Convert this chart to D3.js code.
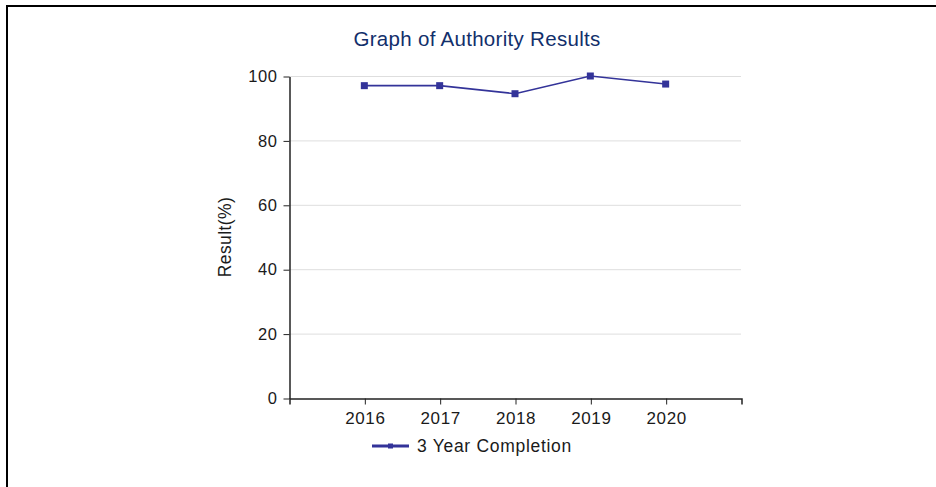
<!DOCTYPE html>
<html>
<head>
<meta charset="utf-8">
<script src="https://cdn.jsdelivr.net/npm/d3@7"></script>
<style>
  html, body { margin: 0; padding: 0; background: #fff; }
  svg { display: block; }
  text { font-family: "Liberation Sans", Arial, sans-serif; }
</style>
</head>
<body>
<script>
const categories = ["2016", "2017", "2018", "2019", "2020"];
const completionValues = [97, 97, 94.5, 100, 97.5];
const yTicks = [0, 20, 40, 60, 80, 100];
const seriesName = "3 Year Completion";
const chartTitle = "Graph of Authority Results";
const yAxisTitle = "Result(%)";

const W = 936, H = 487;
const svg = d3.select("body").append("svg").attr("width", W).attr("height", H);

// frame border (top + left)
svg.append("path")
  .attr("d", "M7,487V6H936")
  .attr("fill", "none").attr("stroke", "#000").attr("stroke-width", 2);

const pLeft = 289, pRight = 741, pTop = 76, pBottom = 398;
const x = d3.scalePoint().domain(categories).range([pLeft, pRight]).padding(1);
const y = d3.scaleLinear().domain([0, 100]).range([pBottom, pTop]);

// gridlines
svg.append("g").selectAll("line").data(yTicks.filter(d => d > 0)).join("line")
  .attr("x1", pLeft).attr("x2", pRight)
  .attr("y1", d => y(d) + 0.5).attr("y2", d => y(d) + 0.5)
  .attr("stroke", "#dedede").attr("stroke-width", 1);

// y axis
const yAxis = svg.append("g").attr("transform", `translate(${pLeft + 0.5},0.5)`)
  .call(d3.axisLeft(y).tickValues(yTicks).tickSize(6).tickSizeOuter(0).tickPadding(6));
yAxis.select(".domain").attr("stroke", "#222").attr("stroke-width", 1.5);
yAxis.selectAll(".tick line").attr("stroke", "#222");
yAxis.selectAll("text").attr("font-size", 16.5).attr("fill", "#1a1a1a")
  .attr("letter-spacing", 0.6)
  .attr("font-family", "Liberation Sans, Arial, sans-serif");

// x axis
const xAxis = svg.append("g").attr("transform", `translate(0.5,${pBottom + 0.5})`)
  .call(d3.axisBottom(x).tickSize(6).tickSizeOuter(6).tickPadding(7));
xAxis.select(".domain").attr("stroke", "#222").attr("stroke-width", 1.5);
xAxis.selectAll(".tick line").attr("stroke", "#222");
xAxis.selectAll("text").attr("font-size", 17).attr("fill", "#1a1a1a")
  .attr("letter-spacing", 0.6)
  .attr("font-family", "Liberation Sans, Arial, sans-serif");

// series line
const color = "#333399";
const data = categories.map((c, i) => ({ c, v: completionValues[i] }));
svg.append("path").datum(data)
  .attr("fill", "none").attr("stroke", color).attr("stroke-width", 1.6)
  .attr("d", d3.line().x(d => x(d.c)).y(d => y(d.v)));
svg.append("g").selectAll("rect").data(data).join("rect")
  .attr("x", d => x(d.c) - 3.5).attr("y", d => y(d.v) - 3.5)
  .attr("width", 7).attr("height", 7).attr("fill", color);

// title
svg.append("text").attr("x", 477).attr("y", 46).attr("text-anchor", "middle")
  .attr("font-size", 20.5).attr("letter-spacing", 0.3).attr("fill", "#122f6b").text(chartTitle);

// y axis title
svg.append("text").attr("transform", `translate(231,${(pTop + pBottom) / 2}) rotate(-90)`)
  .attr("text-anchor", "middle").attr("font-size", 17.5).attr("letter-spacing", 0.4)
  .attr("fill", "#1a1a1a").text(yAxisTitle);

// legend
const lg = svg.append("g");
lg.append("line").attr("x1", 372).attr("x2", 409).attr("y1", 446).attr("y2", 446)
  .attr("stroke", color).attr("stroke-width", 3);
lg.append("rect").attr("x", 388).attr("y", 443.5).attr("width", 5).attr("height", 5).attr("fill", color);
lg.append("text").attr("x", 417).attr("y", 452).attr("font-size", 17.5).attr("letter-spacing", 0.7)
  .attr("fill", "#1a1a1a").text(seriesName);
</script>
</body>
</html>
